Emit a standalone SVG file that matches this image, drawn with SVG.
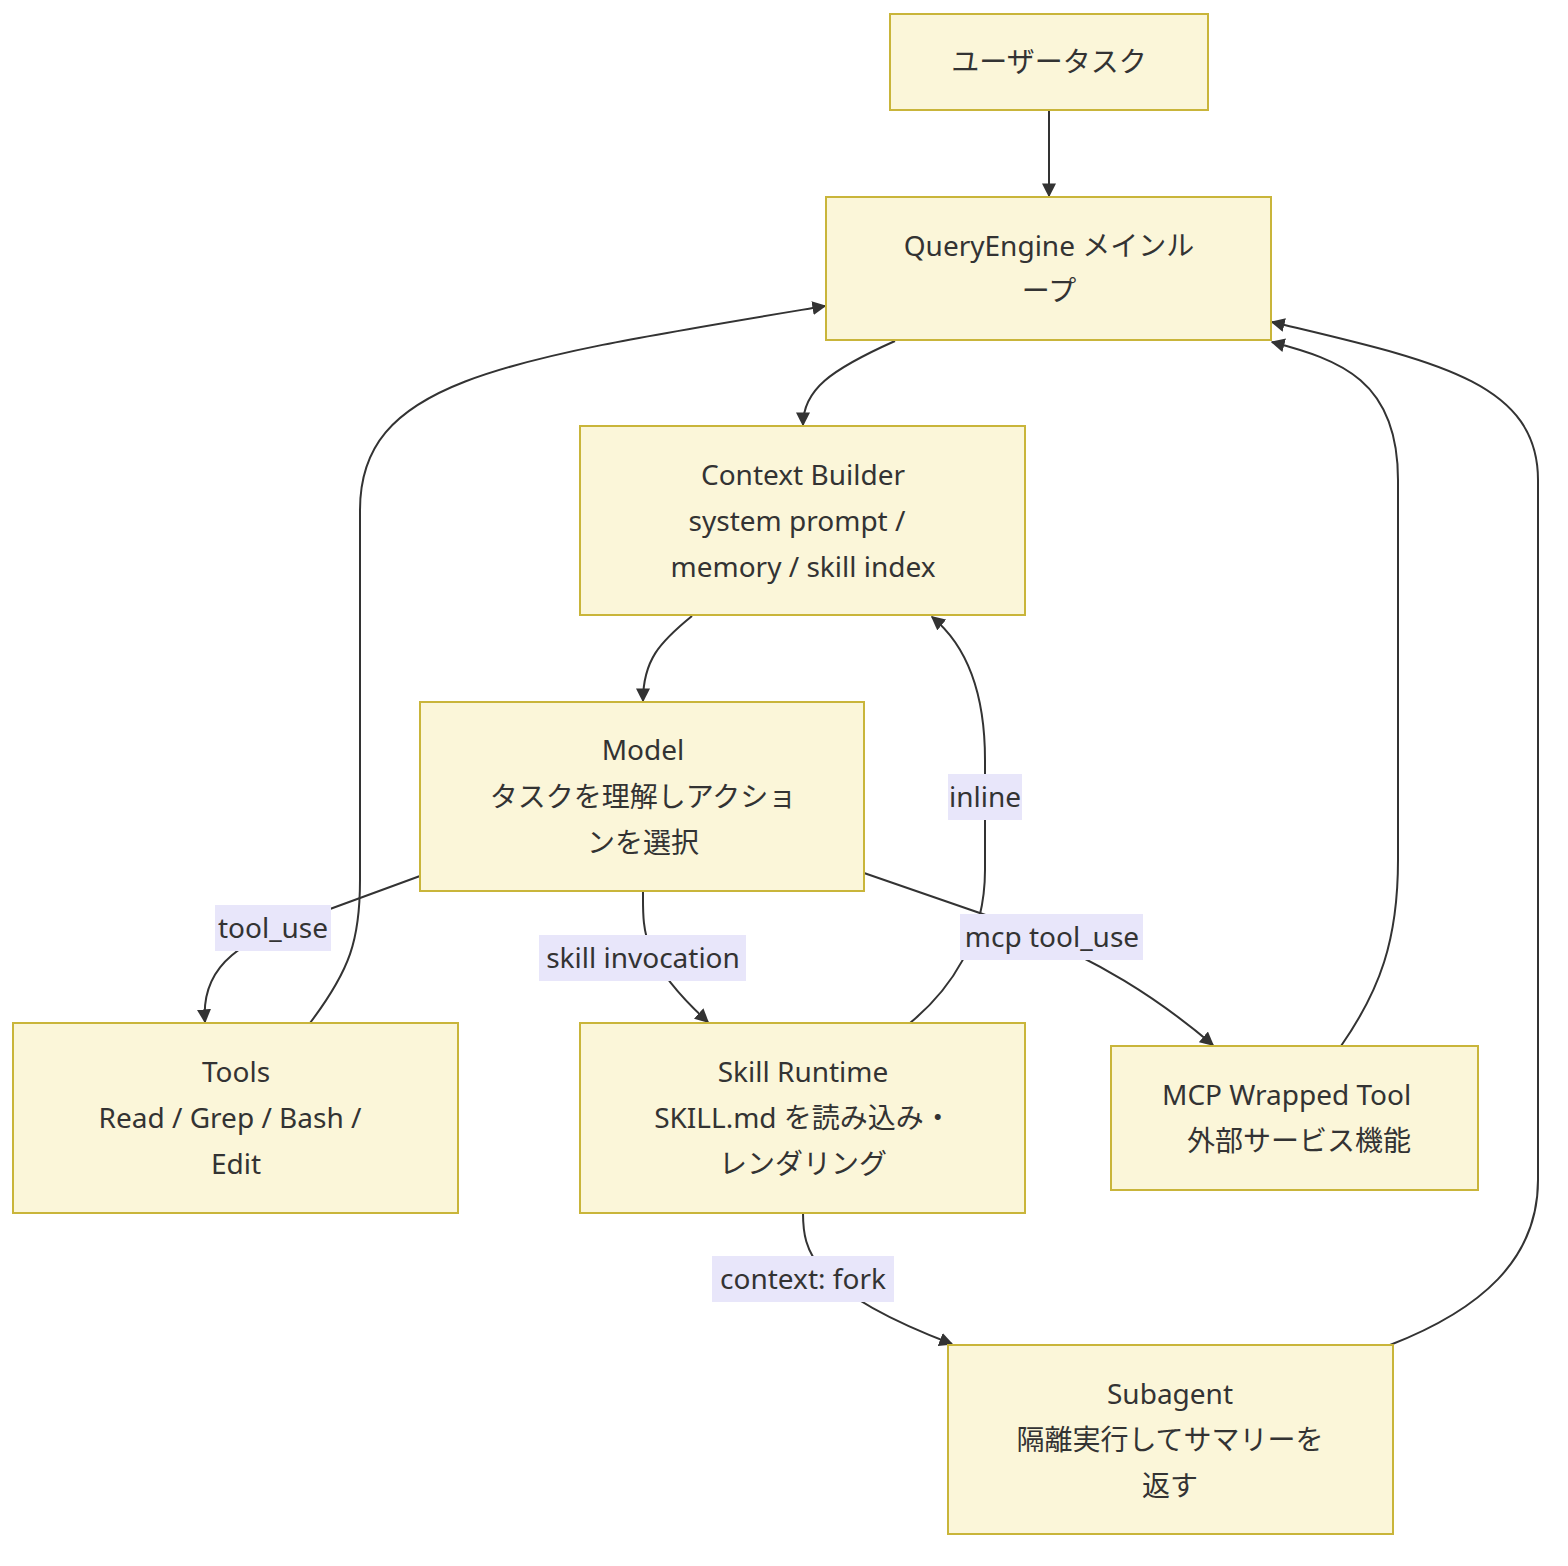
<svg xmlns="http://www.w3.org/2000/svg" width="1568" height="1566" viewBox="0 0 1568 1566">
<style>
.n{fill:#fbf6d9;stroke:#c9b53a;stroke-width:2}
.t{font-family:"Noto Sans","Noto Sans CJK JP",sans-serif;font-size:28px;fill:#333;text-anchor:middle}
.e{fill:none;stroke:#333;stroke-width:2;marker-end:url(#a)}
.lb{fill:#e8e6fa}
</style>
<defs>
<marker id="a" viewBox="0 0 10 10" refX="9" refY="5" markerWidth="7" markerHeight="7" orient="auto-start-reverse"><path d="M0,0L10,5L0,10z" fill="#333"/></marker>
<clipPath id="mc"><rect x="1111" y="1046" width="317" height="144"/></clipPath>
</defs>
<rect width="1568" height="1566" fill="#fff"/>
<g id="edges">
<path class="e" d="M1049,110L1049,196"/>
<path class="e" d="M895,341C830,370 803,390 803,425"/>
<path class="e" d="M692,616C660,642 643,660 643,701"/>
<path class="e" d="M420,876L300,920C250,940 200,960 205,1022"/>
<path class="e" d="M643,891C643,930 640,960 708,1022"/>
<path class="e" d="M864,873L1000,920C1100,960 1160,1000 1213,1045"/>
<path class="e" d="M910,1023C950,990 985,940 985,870L985,760C985,680 960,640 932,617"/>
<path class="e" d="M310,1023C350,970 360,940 360,880L360,510C360,380 500,360 825,306"/>
<path class="e" d="M1341,1046C1380,990 1398,940 1398,860L1398,480C1398,380 1340,360 1272,342"/>
<path class="e" d="M803,1213C803,1250 810,1290 952,1344"/>
<path class="e" d="M1390,1345C1480,1310 1538,1260 1538,1180L1538,480C1538,380 1430,360 1272,322"/>
</g>
<g id="labels">
<rect class="lb" x="215" y="905" width="116" height="46"/><text class="t" x="273" y="938">tool_use</text>
<rect class="lb" x="539" y="935" width="207" height="46"/><text class="t" x="643" y="968">skill invocation</text>
<rect class="lb" x="960" y="914" width="183" height="46"/><text class="t" x="1052" y="947">mcp tool_use</text>
<rect class="lb" x="948" y="774" width="74" height="46"/><text class="t" x="985" y="807">inline</text>
<rect class="lb" x="712" y="1256" width="182" height="46"/><text class="t" x="803" y="1289">context: fork</text>
</g>
<g id="n1"><rect class="n" x="890" y="14" width="318" height="96"/><text class="t" x="1049" y="72">ユーザータスク</text></g>
<g id="n2"><rect class="n" x="826" y="197" width="445" height="143"/><text class="t" x="1049" y="256">QueryEngine メインル</text><text class="t" x="1049" y="301">ープ</text></g>
<g id="n3"><rect class="n" x="580" y="426" width="445" height="189"/><text class="t" x="803" y="485">Context Builder</text><text class="t" x="797" y="531">system prompt /</text><text class="t" x="803" y="577">memory / skill index</text></g>
<g id="n4"><rect class="n" x="420" y="702" width="444" height="189"/><text class="t" x="643" y="760">Model</text><text class="t" x="643" y="807">タスクを理解しアクショ</text><text class="t" x="643" y="853">ンを選択</text></g>
<g id="n5"><rect class="n" x="13" y="1023" width="445" height="190"/><text class="t" x="236" y="1082">Tools</text><text class="t" x="230" y="1128">Read / Grep / Bash /</text><text class="t" x="236" y="1174">Edit</text></g>
<g id="n6"><rect class="n" x="580" y="1023" width="445" height="190"/><text class="t" x="803" y="1082">Skill Runtime</text><text class="t" x="803" y="1128">SKILL.md を読み込み・</text><text class="t" x="803" y="1174">レンダリング</text></g>
<g id="n7"><rect class="n" x="1111" y="1046" width="367" height="144"/><g clip-path="url(#mc)"><text class="t" x="1162" y="1105" style="text-anchor:start">MCP Wrapped Tool</text><text class="t" x="1187" y="1151" style="text-anchor:start">外部サービス機能</text></g></g>
<g id="n8"><rect class="n" x="948" y="1345" width="445" height="189"/><text class="t" x="1170" y="1404">Subagent</text><text class="t" x="1170" y="1450">隔離実行してサマリーを</text><text class="t" x="1170" y="1496">返す</text></g>
</svg>
